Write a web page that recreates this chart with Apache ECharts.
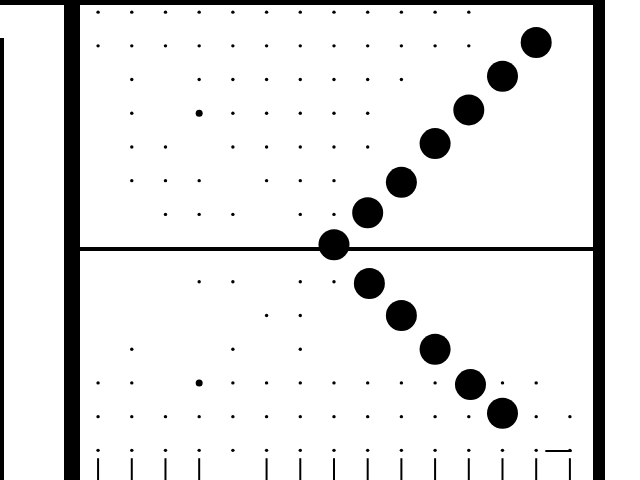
<!DOCTYPE html>
<html>
<head>
<meta charset="utf-8">
<script src="https://cdn.jsdelivr.net/npm/echarts@6/dist/echarts.min.js"></script>
<style>html,body{margin:0;padding:0;background:#fff;}#c{width:640px;height:480px;}</style>
</head>
<body>
<div id="c"></div>
<script>
// Large circles: upper branch and lower branch
var upperX = [0, 1, 2, 3, 4, 5, 6];
var upperY = [0.1, 1.05, 1.95, 3.1, 4.1, 5.1, 6.1];
var lowerX = [1.05, 2.0, 3.0, 4.05, 5.0];
var lowerY = [-1.05, -2.0, -3.0, -4.05, -4.9];

// Background dot grid rows (row value -> x values present)
var dotRows = [7, 6, 5, 4, 3, 2, 1, -1, -2, -3, -4, -5, -6];
var dotCols = [
  [-7,-6,-5,-4,-3,-2,-1,0,1,2,3,4],
  [-7,-6,-5,-4,-3,-2,-1,0,1,2,3,4],
  [-6,-4,-3,-2,-1,0,1,2],
  [-6,-3,-2,-1,0,1],
  [-6,-5,-3,-2,-1,0,1],
  [-6,-5,-4,-2,-1,0],
  [-5,-4,-3,-1,0],
  [-4,-3,-1,0],
  [-2,-1],
  [-6,-3,-1],
  [-7,-6,-3,-2,-1,0,1,2,3,5,6],
  [-7,-6,-5,-4,-3,-2,-1,0,1,2,3,4,6,7],
  [-7,-6,-5,-4,-3,-2,-1,0,1,2,3,4,5,6,7]
];
// Heavier dots
var bigDotX = [-4, -4];
var bigDotY = [4, -4];
// Short vertical ticks at the bottom edge
var tickCols = [-7,-6,-5,-4,-2,-1,0,1,2,3,4,5,6,7];
var tickY = -6.56;
// Small horizontal stroke near bottom right
var strokeX = [6.27, 7.05];
var strokeY = [-6.02, -6.02];

var dots = [];
dotRows.forEach(function (r, i) { dotCols[i].forEach(function (x) { dots.push([x, r]); }); });
var circles = upperX.map(function (x, i) { return [x, upperY[i]]; })
  .concat(lowerX.map(function (x, i) { return [x, lowerY[i]]; }));
var bigDots = bigDotX.map(function (x, i) { return [x, bigDotY[i]]; });
var ticks = tickCols.map(function (x) { return [x, tickY]; });
var stroke = strokeX.map(function (x, i) { return [x, strokeY[i]]; });

var XMIN = -9.91, XMAX = 9.08, YMIN = -6.88, YMAX = 7.36;
function seg(x1, y1, x2, y2, w) {
  return [{ coord: [x1, y1], lineStyle: { width: w, color: '#000', type: 'solid', opacity: 1 } }, { coord: [x2, y2] }];
}
var solid = { color: '#000', opacity: 1 };

var chart = echarts.init(document.getElementById('c'), null, { renderer: 'canvas' });
chart.setOption({
  animation: false,
  backgroundColor: '#fff',
  grid: { left: 0, right: 0, top: 0, bottom: 0 },
  xAxis: { type: 'value', min: XMIN, max: XMAX, show: false },
  yAxis: { type: 'value', min: YMIN, max: YMAX, show: false },
  series: [
    {
      type: 'scatter', data: dots, symbol: 'circle', symbolSize: 3.4,
      itemStyle: solid, silent: true,
      markLine: {
        silent: true, symbol: ['none', 'none'], label: { show: false },
        data: [
          seg(XMIN, 7.285, 7.9, 7.285, 5),
          seg(-7.78, YMAX, -7.78, YMIN, 16),
          seg(7.86, YMAX, 7.86, YMIN, 12),
          seg(-9.857, 6.23, -9.857, YMIN, 4),
          seg(-7.75, -0.02, 7.86, -0.02, 4)
        ]
      }
    },
    { type: 'scatter', data: bigDots, symbolSize: 7, itemStyle: solid, silent: true },
    { type: 'scatter', data: ticks, symbol: 'rect', symbolSize: [2, 22], itemStyle: solid, silent: true },
    { type: 'line', data: stroke, symbol: 'none', lineStyle: { color: '#000', width: 2, opacity: 1 }, silent: true },
    { type: 'scatter', data: circles, symbol: 'circle', symbolSize: 31, itemStyle: solid, silent: true, z: 5 }
  ]
});
</script>
</body>
</html>
